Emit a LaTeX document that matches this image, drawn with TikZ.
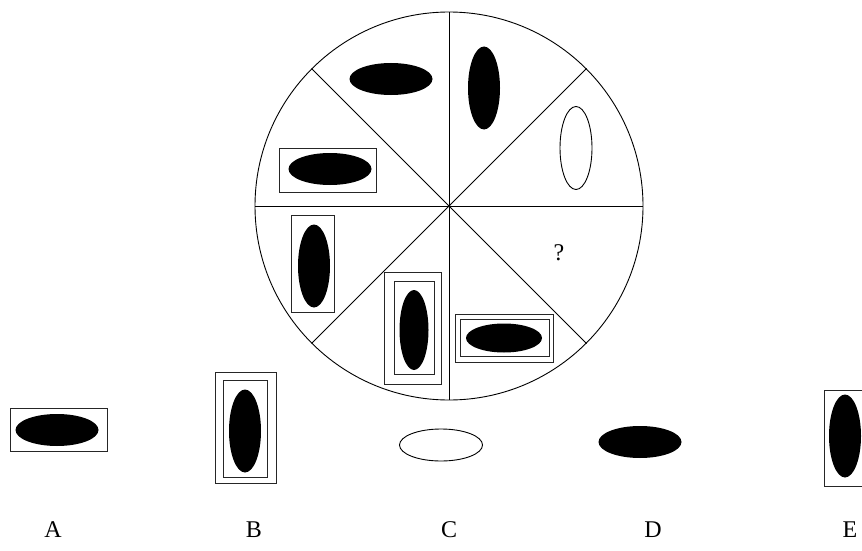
\documentclass[tikz,border=0pt]{standalone}
\usepackage{fontspec}
\setmainfont{Liberation Serif}
\usetikzlibrary{shapes.geometric}

\begin{document}
\begin{tikzpicture}[
  x=1pt,y=-1pt,
  line width=0.9pt,
  blob/.style={ellipse,fill=black,inner sep=0pt},
  ring/.style={ellipse,draw=black,inner sep=0pt},
  flat/.style={minimum width=83pt,minimum height=32pt},
  tall/.style={minimum width=32pt,minimum height=83pt},
  frame/.style={rectangle,draw=black!85,line width=1pt,inner sep=0pt},
  choice/.style={font=\fontsize{24}{26}\selectfont,anchor=base},
]
\clip (0,0) rectangle (862,551);

% ---------- the wheel, cut into eight sectors ----------
\coordinate (hub) at (449,206);
\node[circle,draw,minimum size=388pt,inner sep=0pt] (wheel) at (hub) {};
\foreach \a in {0,45,...,315}
  \draw (hub) -- (wheel.\a);
\node[circle,fill,inner sep=0pt,minimum size=3pt] (hubdot) at (hub) {};

% sector contents, clockwise from the top
\node[blob,tall] (secB) at (484,88) {};
\node[ring,tall] (secC) at (576,148) {};
\node[font=\fontsize{24}{26}\selectfont] (ask) at (559,253) {?};
\node[frame,minimum width=98pt,minimum height=48pt] (secEout) at (504,338) {};
\node[frame,minimum width=89pt,minimum height=37pt] (secEin) at (505,338) {};
\node[blob,minimum width=76pt,minimum height=29pt] (secE) at (504,338) {};
\node[frame,minimum width=57pt,minimum height=112pt] (secFout) at (413,328) {};
\node[frame,minimum width=40pt,minimum height=93pt] (secFin) at (414,328) {};
\node[blob,minimum width=29pt,minimum height=80pt] (secF) at (414,330) {};
\node[frame,minimum width=43pt,minimum height=97pt] (secGbox) at (313,264) {};
\node[blob,tall] (secG) at (314,266) {};
\node[frame,minimum width=97pt,minimum height=44pt] (secHbox) at (328,170) {};
\node[blob,flat] (secH) at (330,169) {};
\node[blob,flat] (secA) at (391,79) {};

% ---------- answer choices ----------
\node[frame,minimum width=97pt,minimum height=43pt] (optAbox) at (59,430) {};
\node[blob,flat] (optA) at (57,430) {};

\node[frame,minimum width=61pt,minimum height=111pt] (optBout) at (245.5,428) {};
\node[frame,minimum width=44pt,minimum height=97pt] (optBin) at (245,429) {};
\node[blob,tall] (optB) at (245,431) {};

\node[ring,flat] (optC) at (441,445) {};

\node[blob,flat] (optD) at (640,442) {};

\node[frame,minimum width=43pt,minimum height=96pt] (optEbox) at (845.5,438) {};
\node[blob,tall] (optE) at (845,436) {};

\node[choice] (labA) at (53,537) {A};
\node[choice] (labB) at (254,537) {B};
\node[choice] (labC) at (449,537) {C};
\node[choice] (labD) at (653,537) {D};
\node[choice] (labE) at (850,537) {E};
\end{tikzpicture}
\end{document}
